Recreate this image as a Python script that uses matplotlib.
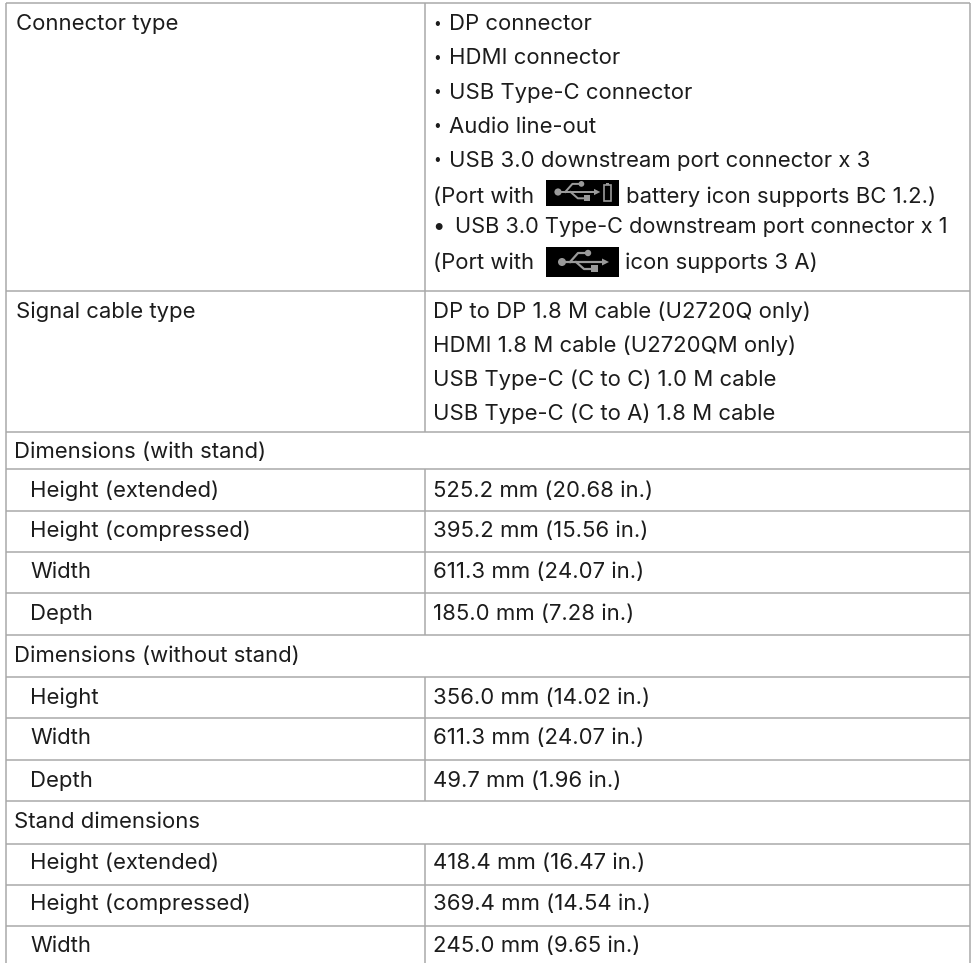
import matplotlib
matplotlib.use('Agg')
import matplotlib.pyplot as plt
from matplotlib.patches import Rectangle, Circle

plt.rcParams['font.family'] = ['Inter', 'DejaVu Sans']

# table text
connector_items = ['DP connector', 'HDMI connector', 'USB Type-C connector', 'Audio line-out',
                   'USB 3.0 downstream port connector x 3']
note_battery = ['(Port with', 'battery icon supports BC 1.2.)']
typec_item = 'USB 3.0 Type-C downstream port connector x 1'
note_typec = ['(Port with', 'icon supports 3 A)']
signal_cables = ['DP to DP 1.8 M cable (U2720Q only)', 'HDMI 1.8 M cable (U2720QM only)',
                 'USB Type-C (C to C) 1.0 M cable', 'USB Type-C (C to A) 1.8 M cable']
left_heads = ['Connector type', 'Signal cable type']
section_heads = ['Dimensions (with stand)', 'Dimensions (without stand)', 'Stand dimensions']
row_names = ['Height (extended)', 'Height (compressed)', 'Width', 'Depth',
             'Height', 'Width', 'Depth',
             'Height (extended)', 'Height (compressed)', 'Width']
row_values = ['525.2 mm (20.68 in.)', '395.2 mm (15.56 in.)', '611.3 mm (24.07 in.)', '185.0 mm (7.28 in.)',
              '356.0 mm (14.02 in.)', '611.3 mm (24.07 in.)', '49.7 mm (1.96 in.)',
              '418.4 mm (16.47 in.)', '369.4 mm (14.54 in.)', '245.0 mm (9.65 in.)']

# layout, in pixels of the page
fs = 15.9
ink = '#1c1c1c'
rule = '#a9a9a9'
x_left, x_mid, x_right = 6, 425, 970
h_lines = [3.5, 291, 432, 469, 511, 552.5, 593.5, 635.5, 677, 718.5, 760.5, 801.5, 844, 885.5, 926.5]
# stretches with no middle line (section heads)
mid_spans = [(3.5, 432), (469, 635.5), (677, 801.5), (844, 963)]
item_base = [30, 64, 98.7, 132.7, 166.7]
cable_base = [317.5, 352, 386.5, 420.5]
section_base = [458, 662, 828]
row_base = [497, 537, 578, 620, 704, 744, 787, 869, 910, 952]

fig = plt.figure(figsize=(9.73, 9.63), dpi=100)
ax = fig.add_axes([0, 0, 1, 1])
ax.set_xlim(0, 973)
ax.set_ylim(963, 0)
ax.axis('off')

for y in h_lines:
    ax.plot([x_left, x_right], [y, y], color=rule, lw=1.1, solid_capstyle='butt')
ax.plot([x_left, x_left], [3.5, 963], color=rule, lw=1.1, solid_capstyle='butt')
ax.plot([x_right, x_right], [3.5, 963], color=rule, lw=1.1, solid_capstyle='butt')
for y0, y1 in mid_spans:
    ax.plot([x_mid, x_mid], [y0, y1], color=rule, lw=1.1, solid_capstyle='butt')


def put(x, y, s, size=fs):
    ax.text(x, y, s, fontsize=size, color=ink, va='baseline', ha='left')


def usb_icon(x0, y0, w, h, cx, cy, k=1.0, battery=False):
    # USB trident on a black box, k scales the glyph
    gray = '#9a9a9a'
    ax.add_patch(Rectangle((x0, y0), w, h, color='black', lw=0))
    ax.add_patch(Circle((cx, cy), 4 * k, color=gray, lw=0))
    ax.plot([cx, cx + 42 * k], [cy, cy], color=gray, lw=1.6 * k, solid_capstyle='butt')
    ax.fill([cx + 47 * k, cx + 40 * k, cx + 40 * k], [cy, cy - 3.5 * k, cy + 3.5 * k], color=gray, lw=0)
    ax.plot([cx + 8 * k, cx + 16 * k, cx + 24 * k], [cy, cy - 9 * k, cy - 9 * k], color=gray, lw=1.6 * k)
    ax.add_patch(Circle((cx + 26 * k, cy - 9 * k), 3.2 * k, color=gray, lw=0))
    ax.plot([cx + 14 * k, cx + 22 * k, cx + 30 * k], [cy, cy + 7 * k, cy + 7 * k], color=gray, lw=1.6 * k)
    ax.add_patch(Rectangle((cx + 29 * k, cy + 3.5 * k), 6.5 * k, 6.5 * k, color=gray, lw=0))
    if battery:
        ax.add_patch(Rectangle((cx + 46, cy - 6.5), 6.5, 15.5, fill=False, edgecolor=gray, lw=1.2))
        ax.add_patch(Rectangle((cx + 48, cy - 8.5), 2.5, 2, color=gray, lw=0))


for s, y in zip(connector_items, item_base):
    put(433.5, y - 2.5, '•', fs * 0.62)
    put(449, y, s)

put(433, 202.7, note_battery[0])
usb_icon(546, 180, 73, 26, 558, 192, k=0.9, battery=True)
put(626, 202.7, note_battery[1])
put(432, 233, '•')
put(455, 233, typec_item, fs * 0.985)
put(433, 269, note_typec[0])
usb_icon(546, 247, 73, 30, 562, 262)
put(625, 269, note_typec[1])

for s, y in zip(signal_cables, cable_base):
    put(433, y, s)

put(16, item_base[0], left_heads[0])
put(16, cable_base[0], left_heads[1])
for s, y in zip(section_heads, section_base):
    put(14, y, s)
for name, val, y in zip(row_names, row_values, row_base):
    put(30, y, name)
    put(433, y, val)

fig.savefig('out.png', dpi=100)
